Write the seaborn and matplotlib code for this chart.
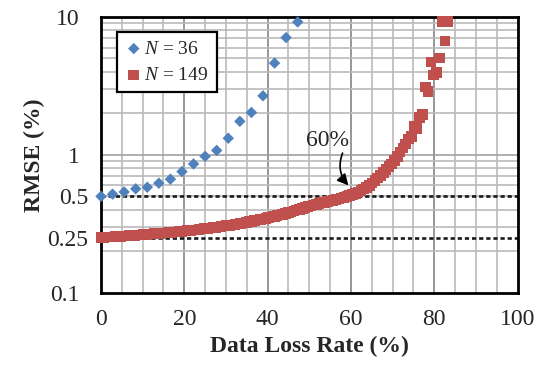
import numpy as np
import pandas as pd
import matplotlib
matplotlib.use("Agg")
import matplotlib.pyplot as plt
import seaborn as sns

# RMSE (%) versus data loss rate for two sample sizes
n_small = 36
n_large = 149

rmse_small = [0.50, 0.519, 0.538, 0.567, 0.582, 0.623, 0.666, 0.756, 0.859,
              0.975, 1.077, 1.32, 1.75, 2.03, 2.68, 4.63, 7.09, 9.20]

rmse_large = [
    0.252, 0.252, 0.253, 0.253, 0.254, 0.255, 0.255, 0.256, 0.257, 0.258,
    0.259, 0.260, 0.261, 0.262, 0.263, 0.264, 0.265, 0.266, 0.267, 0.268,
    0.269, 0.270, 0.271, 0.272, 0.273, 0.274, 0.275, 0.276, 0.278, 0.279,
    0.281, 0.282, 0.283, 0.285, 0.286, 0.288, 0.289, 0.291, 0.292, 0.294,
    0.296, 0.298, 0.300, 0.302, 0.304, 0.306, 0.308, 0.310, 0.312, 0.315,
    0.318, 0.321, 0.324, 0.327, 0.330, 0.333, 0.336, 0.339, 0.342, 0.346,
    0.350, 0.354, 0.358, 0.362, 0.366, 0.370, 0.375, 0.380, 0.385, 0.391,
    0.397, 0.402, 0.408, 0.414, 0.420, 0.426, 0.432, 0.438, 0.444, 0.450,
    0.452, 0.457, 0.462, 0.467, 0.473, 0.479, 0.485, 0.492, 0.499, 0.506,
    0.515, 0.525, 0.537, 0.550, 0.565, 0.582, 0.600, 0.625, 0.650, 0.680,
    0.710, 0.745, 0.780, 0.820, 0.860, 0.910, 0.970, 1.050, 1.120, 1.200,
    1.300, 1.360, 1.610, 1.550, 1.870, 1.960, 3.100, 2.870, 4.700, 3.800,
    3.950, 5.050, 9.300, 6.700, 9.300,
]

ref_levels = [0.5, 0.25]
y_ticks = [0.1, 0.25, 0.5, 1, 10]
y_tick_labels = ["0.1", "0.25", "0.5", "1", "10"]
x_ticks = [0, 20, 40, 60, 80, 100]

df_small = pd.DataFrame({
    "loss": np.arange(len(rmse_small)) * 100.0 / n_small,
    "rmse": rmse_small,
})
df_large = pd.DataFrame({
    "loss": np.arange(len(rmse_large)) * 100.0 / n_large,
    "rmse": rmse_large,
})

sns.set_theme(style="white")
plt.rcParams["font.family"] = ["Liberation Serif", "DejaVu Serif"]
plt.rcParams["mathtext.fontset"] = "custom"
plt.rcParams["mathtext.rm"] = "Liberation Serif"
plt.rcParams["mathtext.it"] = "Liberation Serif:italic"

FS = 17
fig = plt.figure(figsize=(5.37, 3.71), dpi=100)
ax = fig.add_axes([101 / 537, 1 - 292.7 / 371, 416.5 / 537, 275.7 / 371])

ax.set_yscale("log")
ax.set_xlim(0, 100)
ax.set_ylim(0.1, 10)

# grid: minor every 5 % / every log step, major every 20 % darker
for xv in range(5, 100, 5):
    col = "#858585" if xv % 20 == 0 else "#bababa"
    ax.axvline(xv, color=col, lw=1.2, zorder=0)
for dec in [0.1, 1]:
    for m in range(2, 10):
        ax.axhline(dec * m, color="#bababa", lw=1.2, zorder=0)
ax.axhline(1, color="#a0a0a0", lw=1.2, zorder=0)

for lv in ref_levels:
    ax.axhline(lv, color="#1a1a1a", lw=1.9, ls=(0, (1.6, 1.1)), zorder=1)

sns.scatterplot(data=df_small, x="loss", y="rmse", ax=ax, marker="D",
                s=34, color="#4F81BD", edgecolor="none", zorder=3,
                label=r"$N$ = 36", clip_on=False)
sns.scatterplot(data=df_large, x="loss", y="rmse", ax=ax, marker="s",
                s=58, color="#C0504D", edgecolor="none", zorder=4,
                label=r"$N$ = 149", clip_on=False)

ax.set_xticks(x_ticks)
ax.set_xticklabels([str(v) for v in x_ticks], fontsize=FS)
ax.set_yticks(y_ticks)
ax.set_yticklabels(y_tick_labels, fontsize=FS)
ax.yaxis.set_minor_locator(matplotlib.ticker.NullLocator())
ax.tick_params(axis="both", which="both", length=0)
ax.tick_params(axis="x", pad=12)
for tick, lab in zip(ax.yaxis.get_major_ticks(), y_tick_labels):
    tick.set_pad(9 if lab in ("0.5", "0.25") else 15.5)

ax.set_xlabel("Data Loss Rate (%)", fontsize=FS, fontweight="bold", labelpad=4)
ax.set_ylabel("RMSE (%)", fontsize=FS, fontweight="bold", labelpad=2)

for sp in ax.spines.values():
    sp.set_visible(True)
    sp.set_color("black")
    sp.set_linewidth(2)

leg = ax.legend(loc="upper left", bbox_to_anchor=(0.039, 0.9445),
                borderaxespad=0, fancybox=False, framealpha=1,
                edgecolor="black", fontsize=14, handletextpad=0.1,
                borderpad=0.4, labelspacing=0.45, handlelength=0.9)
leg.get_frame().set_linewidth(1.6)

# label and curved pointer for the 60 % crossing
ax.text(54.5, 1.27, "60%", fontsize=FS, ha="center", va="center")
ax.annotate("", xy=(59.4, 0.60), xytext=(58.0, 1.03),
            arrowprops=dict(arrowstyle="-|>,head_length=0.55,head_width=0.28",
                            color="black", lw=1.2,
                            connectionstyle="arc3,rad=0.3",
                            shrinkA=0, shrinkB=0))

fig.savefig("out.png", dpi=100)
